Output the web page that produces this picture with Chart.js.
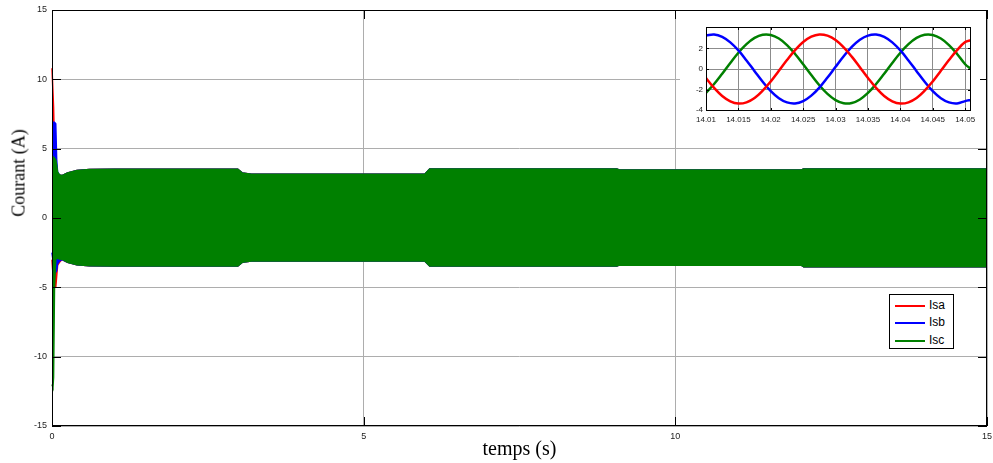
<!DOCTYPE html>
<html>
<head>
<meta charset="utf-8">
<script src="https://cdn.jsdelivr.net/npm/chart.js@4.4.1/dist/chart.umd.min.js"></script>
<style>
  body { margin: 0; background: #fff; }
  #wrap { position: relative; width: 993px; height: 463px; }
  #mainChart { position: absolute; left: 0; top: 0; }
  #zoomChart { position: absolute; left: 680px; top: 18px; background: #fff; }
  #ylab {
    position: absolute; left: 19px; top: 173px; transform: translate(-50%, -50%) rotate(-90deg);
    font: 18px "Liberation Serif", "Times New Roman", serif; white-space: nowrap; color: #000;
  }
  #legend {
    position: absolute; left: 889px; top: 294px; width: 63px; height: 53px;
    border: 1px solid #000; background: #fff; font: 12px "Liberation Sans", Arial, sans-serif;
  }
  .lg-row { position: absolute; left: 5px; height: 14px; line-height: 14px; }
  .lg-row span { display: inline-block; width: 30px; height: 2px; vertical-align: middle; margin-right: 4px; }
</style>
</head>
<body>
<div id="wrap">
  <canvas id="mainChart" width="993" height="463"></canvas>
  <div id="ylab">Courant (A)</div>
  <canvas id="zoomChart" width="300" height="114"></canvas>
  <div id="legend">
    <div class="lg-row" style="top:3px"><span style="background:#ff0000"></span>Isa</div>
    <div class="lg-row" style="top:20px"><span style="background:#0000ff"></span>Isb</div>
    <div class="lg-row" style="top:38px"><span style="background:#008000"></span>Isc</div>
  </div>
</div>
<script>
/* ─── Données ──────────────────────────────────────────────── */
// enveloppe (min / max) des courants sur 0..15 s
const T_ENV  = [0, 0.015, 0.025, 0.04, 0.06, 0.075, 0.09, 0.12, 0.16, 0.25, 0.4, 0.6, 1.0, 2.98, 3.05, 3.2, 5.98, 6.06, 9.06, 9.1, 12.02, 12.06, 15];
const ISA_UP = [10.8, 10.8, 8.0, 5.0, 4.0, 3.5, 3.2, 3.1, 3.05, 3.25, 3.42, 3.5, 3.52, 3.52, 3.25, 3.16, 3.16, 3.54, 3.54, 3.47, 3.47, 3.54, 3.54];
const ISA_LO = [-3.0, -4.0, -4.5, -5.0, -5.0, -4.2, -3.4, -3.2, -3.0, -3.2, -3.38, -3.45, -3.47, -3.47, -3.2, -3.1, -3.1, -3.47, -3.47, -3.4, -3.4, -3.52, -3.52];
const ISB_UP = [4.5, 6.9, 6.9, 6.9, 6.8, 4.2, 3.3, 3.1, 3.05, 3.25, 3.42, 3.5, 3.52, 3.52, 3.25, 3.16, 3.16, 3.54, 3.54, 3.47, 3.47, 3.54, 3.54];
const ISB_LO = [-2.5, -3.0, -3.2, -3.6, -3.9, -3.8, -3.3, -3.1, -3.0, -3.2, -3.38, -3.45, -3.47, -3.47, -3.2, -3.1, -3.1, -3.47, -3.47, -3.4, -3.4, -3.52, -3.52];
const ISC_UP = [4.4, 4.4, 4.4, 4.3, 4.2, 3.8, 3.3, 3.1, 3.06, 3.25, 3.42, 3.5, 3.52, 3.52, 3.25, 3.16, 3.16, 3.54, 3.54, 3.47, 3.47, 3.54, 3.54];
const ISC_LO = [-12.0, -12.2, -11.5, -5.0, -3.0, -2.9, -2.9, -2.95, -2.97, -3.2, -3.38, -3.45, -3.47, -3.47, -3.2, -3.1, -3.1, -3.47, -3.47, -3.4, -3.4, -3.52, -3.52];
const X_TICKS = [0, 5, 10, 15];
const Y_TICKS = [-15, -10, -5, 0, 5, 10, 15];

// zoom 14.01 .. 14.05 s
const ZOOM_T = [14.01, 14.01125, 14.0125, 14.01375, 14.015, 14.01625, 14.0175, 14.01875, 14.02, 14.02125, 14.0225, 14.02375,
  14.025, 14.02625, 14.0275, 14.02875, 14.03, 14.03125, 14.0325, 14.03375, 14.035, 14.03625, 14.0375, 14.03875,
  14.04, 14.04125, 14.0425, 14.04375, 14.045, 14.04625, 14.0475, 14.04875, 14.05, 14.0509];
const ISA_ZOOM = [-0.87, -1.83, -2.61, -3.13, -3.35, -3.23, -2.81, -2.10, -1.20, -0.17, 0.87, 1.83, 2.61, 3.13, 3.35, 3.23, 2.81,
  2.10, 1.20, 0.17, -0.87, -1.83, -2.61, -3.13, -3.35, -3.23, -2.81, -2.10, -1.20, -0.17, 0.87, 1.83, 2.61, 2.8];
const ISB_ZOOM = [3.24, 3.34, 3.11, 2.58, 1.80, 0.83, -0.21, -1.23, -2.14, -2.83, -3.24, -3.34, -3.11, -2.58, -1.80, -0.83, 0.21,
  1.23, 2.14, 2.83, 3.24, 3.34, 3.11, 2.58, 1.80, 0.83, -0.21, -1.23, -2.14, -2.83, -3.24, -3.34, -3.11, -3.0];
const ISC_ZOOM = [-2.32, -1.46, -0.46, 0.59, 1.58, 2.41, 3.01, 3.32, 3.30, 2.95, 2.32, 1.46, 0.46, -0.59, -1.58, -2.41, -3.01,
  -3.32, -3.30, -2.95, -2.32, -1.46, -0.46, 0.59, 1.58, 2.41, 3.01, 3.32, 3.30, 2.95, 2.32, 1.46, 0.46, 0.0];
const ZOOM_XTICKS = [14.01, 14.015, 14.02, 14.025, 14.03, 14.035, 14.04, 14.045, 14.05];
const ZOOM_YTICKS = [-4, -2, 0, 2];

const RED = '#ff0000', BLUE = '#0000ff', GREEN = '#008000';

/* ─── cadre noir + graduations intérieures (style MATLAB) ─── */
const framePlugin = {
  id: 'frame',
  afterDraw(chart, args, opts) {
    const { ctx, chartArea: a, scales } = chart;
    const len = opts.tick || 8;
    ctx.save();
    ctx.strokeStyle = '#000';
    ctx.lineWidth = 1;
    ctx.strokeRect(a.left + .5, a.top + .5, a.right - a.left - 1, a.bottom - a.top - 1);
    ctx.beginPath();
    scales.x.ticks.forEach(t => {
      const px = Math.round(scales.x.getPixelForValue(t.value)) + .5;
      ctx.moveTo(px, a.bottom); ctx.lineTo(px, a.bottom - len);
      ctx.moveTo(px, a.top);    ctx.lineTo(px, a.top + len);
    });
    scales.y.ticks.forEach(t => {
      const py = Math.round(scales.y.getPixelForValue(t.value)) + .5;
      ctx.moveTo(a.left, py);  ctx.lineTo(a.left + len, py);
      ctx.moveTo(a.right, py); ctx.lineTo(a.right - len, py);
    });
    ctx.stroke();
    ctx.restore();
  }
};

const pts = (xs, ys) => xs.map((x, i) => ({ x, y: ys[i] }));

// bande min/max : dataset bas puis dataset haut rempli jusqu'au précédent
function band(lo, up, color, order) {
  return [
    { data: pts(T_ENV, lo), borderColor: color, borderWidth: 1.5, pointRadius: 0, tension: 0, fill: false, order, clip: 2 },
    { data: pts(T_ENV, up), borderColor: color, backgroundColor: color, borderWidth: 1.5, pointRadius: 0, tension: 0, fill: '-1', order, clip: 2 },
  ];
}

const tickFont = { family: 'Liberation Sans', size: 9 };

new Chart(document.getElementById('mainChart'), {
  type: 'line',
  data: {
    datasets: [
      ...band(ISA_LO, ISA_UP, RED, 3),
      ...band(ISB_LO, ISB_UP, BLUE, 2),
      ...band(ISC_LO, ISC_UP, GREEN, 1),
    ],
  },
  options: {
    responsive: false, animation: false,
    layout: { padding: { top: 10, right: 6, left: 0, bottom: 0 } },
    plugins: { legend: { display: false }, tooltip: { enabled: false }, frame: { tick: 9 } },
    scales: {
      x: {
        type: 'linear', min: 0, max: 15,
        afterBuildTicks: s => { s.ticks = X_TICKS.map(v => ({ value: v })); },
        afterFit: s => { s.height = 37; s.paddingLeft = 0; s.paddingRight = 0; },
        grid: { color: '#adadad', drawTicks: false },
        border: { display: false },
        ticks: { font: tickFont, color: '#222', padding: 5, maxRotation: 0 },
        title: { display: true, text: 'temps (s)', color: '#000',
                 font: { family: 'Liberation Serif', size: 20 }, padding: { top: 0, bottom: 1 } },
      },
      y: {
        type: 'linear', min: -15, max: 15,
        afterBuildTicks: s => { s.ticks = Y_TICKS.map(v => ({ value: v })); },
        afterFit: s => { s.width = 52; s.paddingTop = 0; s.paddingBottom = 0; },
        grid: { color: '#adadad', drawTicks: false },
        border: { display: false },
        ticks: { font: tickFont, color: '#222', padding: 5 },
      },
    },
  },
  plugins: [framePlugin],
});

/* ─── encart : zoom sur 14.01 – 14.05 s ─────────────────────── */
const zoomLine = (ys, color) => ({
  data: pts(ZOOM_T, ys), borderColor: color, borderWidth: 2.5, pointRadius: 0, tension: 0.4, fill: false,
});
const smallFont = { family: 'Liberation Sans', size: 8 };

new Chart(document.getElementById('zoomChart'), {
  type: 'line',
  data: { datasets: [zoomLine(ISA_ZOOM, RED), zoomLine(ISB_ZOOM, BLUE), zoomLine(ISC_ZOOM, GREEN)] },
  options: {
    responsive: false, animation: false,
    layout: { padding: { top: 9, right: 9, left: 0, bottom: 0 } },
    plugins: { legend: { display: false }, tooltip: { enabled: false }, frame: { tick: 3 } },
    scales: {
      x: {
        type: 'linear', min: 14.01, max: 14.0509,
        afterBuildTicks: s => { s.ticks = ZOOM_XTICKS.map(v => ({ value: v })); },
        afterFit: s => { s.height = 21; s.paddingLeft = 0; s.paddingRight = 0; },
        grid: { color: '#8c8c8c', drawTicks: false },
        border: { display: false },
        ticks: { font: smallFont, color: '#222', padding: 4, maxRotation: 0, autoSkip: false,
                 callback: v => String(Number(v.toFixed(3))) },
      },
      y: {
        type: 'linear', min: -4.07, max: 4.07,
        afterBuildTicks: s => { s.ticks = ZOOM_YTICKS.map(v => ({ value: v })); },
        afterFit: s => { s.width = 26; s.paddingTop = 0; s.paddingBottom = 0; },
        grid: { color: '#8c8c8c', drawTicks: false },
        border: { display: false },
        ticks: { font: smallFont, color: '#222', padding: 3 },
      },
    },
  },
  plugins: [framePlugin],
});
</script>
</body>
</html>
